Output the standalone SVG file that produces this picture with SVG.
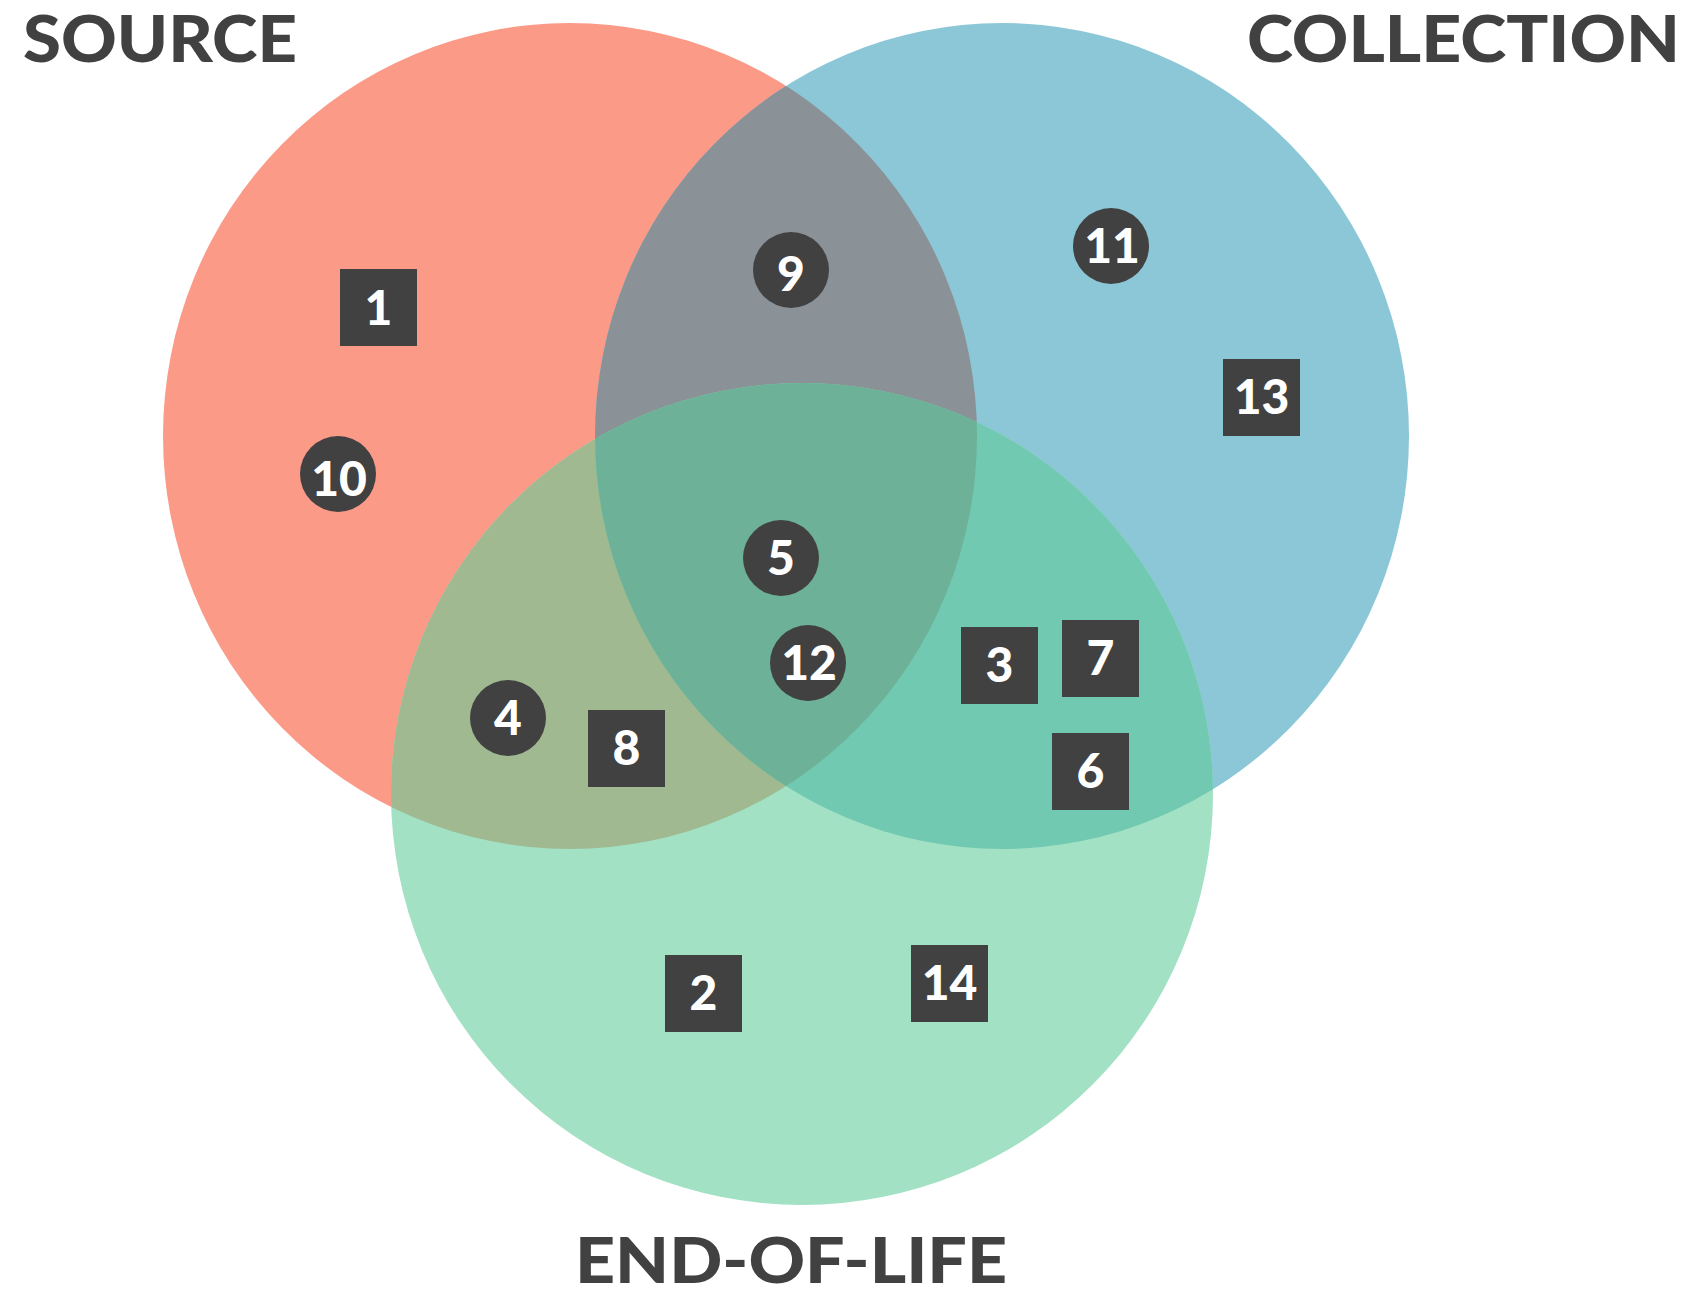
<svg xmlns="http://www.w3.org/2000/svg" width="1687" height="1293" viewBox="0 0 1687 1293">
<style>
.title{font-family:Lato,"Liberation Sans",sans-serif;font-weight:900;font-size:65px;fill:#414141}
.num{font-family:Lato,"Liberation Sans",sans-serif;font-weight:900;font-size:48px;fill:#ffffff;text-anchor:middle}
.tag{fill:#414141}
</style>
<defs>
<clipPath id="clipS"><ellipse cx="570" cy="436" rx="407" ry="413"/></clipPath>
<clipPath id="clipC"><ellipse cx="1002" cy="436" rx="407" ry="413"/></clipPath>
</defs>
<rect width="1687" height="1293" fill="#ffffff"/>
<g id="sets">
<ellipse id="set-source" cx="570" cy="436" rx="407" ry="413" fill="#FC9A88"/>
<ellipse id="set-collection" cx="1002" cy="436" rx="407" ry="413" fill="#8CC7D7"/>
<circle id="set-eol" cx="802" cy="794" r="411" fill="#A2E1C4"/>
<ellipse cx="1002" cy="436" rx="407" ry="413" fill="#8A9197" clip-path="url(#clipS)"/>
<circle cx="802" cy="794" r="411" fill="#A0B990" clip-path="url(#clipS)"/>
<circle cx="802" cy="794" r="411" fill="#71C9B1" clip-path="url(#clipC)"/>
<g clip-path="url(#clipS)"><circle cx="802" cy="794" r="411" fill="#6DB298" clip-path="url(#clipC)"/></g>
</g>
<g id="labels">
<text class="title" x="23" y="62" textLength="274" lengthAdjust="spacingAndGlyphs">SOURCE</text>
<text class="title" x="1247" y="62" textLength="433" lengthAdjust="spacingAndGlyphs">COLLECTION</text>
<text class="title" x="575" y="1283" style="font-size:62px" textLength="432" lengthAdjust="spacingAndGlyphs">END-OF-LIFE</text>
</g>
<g id="connectors"/>
<g id="n1"><rect class="tag" x="340" y="269" width="77" height="77"/><text class="num" x="378.5" y="325">1</text></g>
<g id="n2"><rect class="tag" x="665" y="955" width="77" height="77"/><text class="num" x="703.5" y="1010">2</text></g>
<g id="n3"><rect class="tag" x="961" y="627" width="77" height="77"/><text class="num" x="999.5" y="682">3</text></g>
<g id="n4"><circle class="tag" cx="508" cy="718" r="38"/><text class="num" x="508" y="735">4</text></g>
<g id="n5"><circle class="tag" cx="781" cy="558" r="38"/><text class="num" x="781" y="575">5</text></g>
<g id="n6"><rect class="tag" x="1052" y="733" width="77" height="77"/><text class="num" x="1090.5" y="788">6</text></g>
<g id="n7"><rect class="tag" x="1062" y="620" width="77" height="77"/><text class="num" x="1100.5" y="675">7</text></g>
<g id="n8"><rect class="tag" x="588" y="710" width="77" height="77"/><text class="num" x="626.5" y="765">8</text></g>
<g id="n9"><circle class="tag" cx="791" cy="270" r="38"/><text class="num" x="791" y="291">9</text></g>
<g id="n10"><circle class="tag" cx="338" cy="474" r="38"/><text class="num" x="339" y="496">10</text></g>
<g id="n11"><circle class="tag" cx="1111" cy="246" r="38"/><text class="num" x="1112" y="263">11</text></g>
<g id="n12"><circle class="tag" cx="808" cy="663" r="38"/><text class="num" x="809" y="680">12</text></g>
<g id="n13"><rect class="tag" x="1223" y="359" width="77" height="77"/><text class="num" x="1261.5" y="414">13</text></g>
<g id="n14"><rect class="tag" x="911" y="945" width="77" height="77"/><text class="num" x="949.5" y="1000">14</text></g>
</svg>
